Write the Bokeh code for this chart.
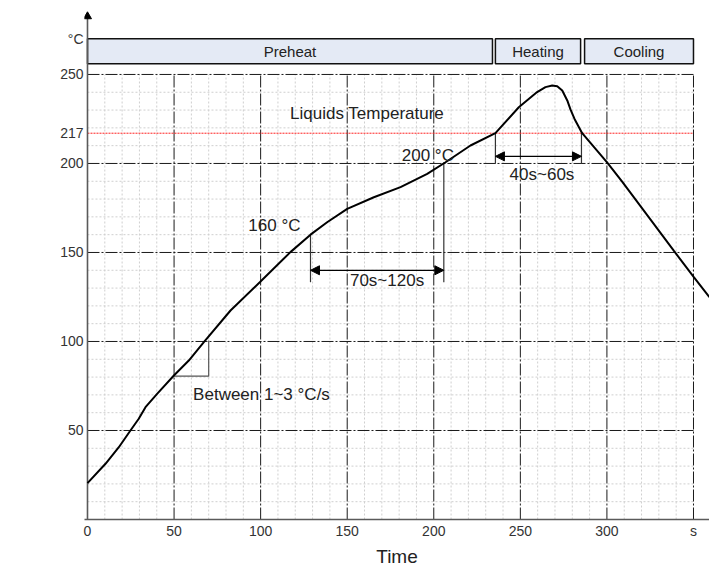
from bokeh.plotting import figure
from bokeh.models import Range1d, FixedTicker, Label, Arrow, NormalHead, ColumnDataSource
from bokeh.embed import file_html
from bokeh.resources import INLINE
from bokeh.core.properties import value

# ---- data ----
time_s = [0, 10.4, 18.1, 24.8, 29.6, 33.5, 40.2, 49.9, 58.5, 67.2, 82.6, 99.5,
          117.2, 128.8, 138.4, 150, 165.4, 180.8, 196.2, 206.8, 221.2, 235.6,
          249.1, 259.7, 264.5, 268.4, 271.3, 274.2, 277.1, 279, 281.3, 285.7,
          300.2, 308.8, 338.6, 350.2, 359.2]
temp_c = [20.4, 31.3, 40.6, 50, 56.6, 63.1, 70.6, 80.9, 89.3, 99.6, 117.4, 133.3,
          150.2, 160, 167, 174.5, 181, 186.7, 194.2, 200.7, 210.1, 217,
          231.6, 240.1, 242.9, 243.8, 243.4, 241, 235.4, 230.2, 225, 217,
          200.5, 189.8, 151, 136.2, 124.9]

y_ticks = [50, 100, 150, 200, 217, 250]
unit_label = "°C"
unit_T = 270
x_ticks = [0, 50, 100, 150, 200, 250, 300, 350]
x_tick_labels = ["0", "50", "100", "150", "200", "250", "300", "s"]

phase_names = ["Preheat", "Heating", "Cooling"]
phase_start = [0, 235.6, 287.1]
phase_end = [233.9, 284.8, 350]
phase_low = 256
phase_high = 270

liquidus = 217
t_max = 350
T_max = 250
axis_top = 284.8
major_step = 50
minor_step = 10

soak_t = [128.8, 205.8]          # 160 °C .. 200 °C
soak_T = [160, 200.7]
soak_arrow_T = 140
soak_line_bottom = 133.3
reflow_t = [235.6, 285.3]        # time above liquidus
reflow_arrow_T = 204
reflow_line_bottom = 199.8
ramp_t = [49.8, 70]              # slope triangle
ramp_T = [80.5, 100.6]

FONT = "Liberation Sans"

p = figure(frame_width=625, frame_height=515,
           x_range=Range1d(-1.73, 359.25), y_range=Range1d(0, 289.3),
           output_backend="svg", toolbar_location=None,
           min_border_left=84, min_border_right=0, min_border_top=4,
           min_border_bottom=47)
p.outline_line_color = None
p.xgrid.visible = False
p.ygrid.visible = False
p.background_fill_color = "white"
p.border_fill_color = "white"

# ---- axes ----
for ax in (p.xaxis[0], p.yaxis[0]):
    ax.axis_line_color = "#5a5a5a"
    ax.axis_line_width = 1.6
    ax.major_tick_out = 0
    ax.major_tick_in = 0
    ax.minor_tick_out = 0
    ax.minor_tick_in = 0
    ax.major_tick_line_color = None
    ax.minor_tick_line_color = None
    ax.major_label_text_font = FONT
    ax.major_label_text_font_size = "14px"
    ax.major_label_text_color = "#333333"

p.yaxis.axis_line_color = None
p.yaxis.ticker = FixedTicker(ticks=y_ticks + [unit_T])
p.yaxis.major_label_overrides = {unit_T: unit_label}
p.yaxis.major_label_standoff = 1
p.xaxis.ticker = FixedTicker(ticks=x_ticks)
p.xaxis.major_label_overrides = {t: lab for t, lab in zip(x_ticks, x_tick_labels)}
p.xaxis.major_label_standoff = 3
p.xaxis.axis_label = "Time"
p.xaxis.axis_label_text_font = FONT
p.xaxis.axis_label_text_font_size = "19px"
p.xaxis.axis_label_text_font_style = "normal"
p.xaxis.axis_label_text_color = "#222222"
p.xaxis.axis_label_standoff = 4

# ---- minor grid ----
minor_x = [t for t in range(minor_step, t_max, minor_step) if t % major_step]
minor_y = [v for v in range(minor_step, T_max, minor_step) if v % major_step]
p.segment(x0=minor_x, y0=[0] * len(minor_x), x1=minor_x, y1=[T_max] * len(minor_x),
          line_color="#cfcfcf", line_width=1, line_dash="2 2")
p.segment(x0=[0] * len(minor_y), y0=minor_y, x1=[t_max] * len(minor_y), y1=minor_y,
          line_color="#cfcfcf", line_width=1, line_dash="2 2")

# ---- major grid ----
major_x = list(range(major_step, t_max + 1, major_step))
major_y = list(range(major_step, T_max + 1, major_step))
p.segment(x0=major_x, y0=[0] * len(major_x), x1=major_x, y1=[T_max] * len(major_x),
          line_color="#1a1a1a", line_width=1, line_dash="12 2 2 2")
p.segment(x0=[0] * len(major_y), y0=major_y, x1=[t_max] * len(major_y), y1=major_y,
          line_color="#1a1a1a", line_width=1, line_dash="12 2 2 2")

# ---- liquidus line ----
p.segment(x0=[0], y0=[liquidus], x1=[t_max], y1=[liquidus],
          line_color="#ff2020", line_width=1, line_dash="2 1")

# ---- phase header boxes ----
src = ColumnDataSource(dict(left=phase_start, right=phase_end,
                            cx=[(a + b) / 2 for a, b in zip(phase_start, phase_end)],
                            name=phase_names))
p.quad(left="left", right="right", bottom=phase_low, top=phase_high, source=src,
       fill_color="#E4EAF5", line_color="#111111", line_width=1.5)
p.text(x="cx", y=(phase_low + phase_high) / 2, text="name", source=src,
       text_font=value(FONT), text_font_size="15px", text_color="#222222",
       text_align="center", text_baseline="middle")

# ---- vertical temperature axis with arrow ----
p.segment(x0=[0], y0=[0], x1=[0], y1=[axis_top - 3],
          line_color="#5a5a5a", line_width=1.6)
p.scatter(x=[0], y=[axis_top - 2.2], marker="triangle", size=8,
          fill_color="black", line_color="black")

# ---- marker lines ----
p.segment(x0=soak_t, y0=[soak_line_bottom] * 2, x1=soak_t, y1=soak_T,
          line_color="#333333", line_width=1.2)
p.segment(x0=reflow_t, y0=[reflow_line_bottom] * 2, x1=reflow_t, y1=[liquidus] * 2,
          line_color="#333333", line_width=1.2)
p.line(x=[ramp_t[0], ramp_t[1], ramp_t[1]], y=[ramp_T[0], ramp_T[0], ramp_T[1]],
       line_color="#555555", line_width=1.2)

def dbl_arrow(x0, x1, y):
    p.add_layout(Arrow(start=NormalHead(size=9, fill_color="black", line_color="black"),
                       end=NormalHead(size=9, fill_color="black", line_color="black"),
                       x_start=x0, y_start=y, x_end=x1, y_end=y,
                       line_color="black", line_width=1.3))

dbl_arrow(soak_t[0], soak_t[1], soak_arrow_T)
dbl_arrow(reflow_t[0], reflow_t[1], reflow_arrow_T)

# ---- profile curve ----
p.line(x=time_s, y=temp_c, line_color="black", line_width=2)

# ---- texts ----
def lab(x, y, text, align="left", size="17px", color="#222222"):
    p.add_layout(Label(x=x, y=y, text=text, text_font=FONT, text_font_size=size,
                       text_color=color, text_align=align, text_baseline="middle"))

lab(117, 228, "Liquids Temperature")
lab(123, 165, "160 °C", align="right")
lab(181.5, 204.5, "200 °C")
lab(173, 134, "70s~120s", align="center")
lab(262.5, 194, "40s~60s", align="center")
lab(61, 70, "Between 1~3 °C/s")

open("out.html", "w").write(file_html(p, INLINE))
